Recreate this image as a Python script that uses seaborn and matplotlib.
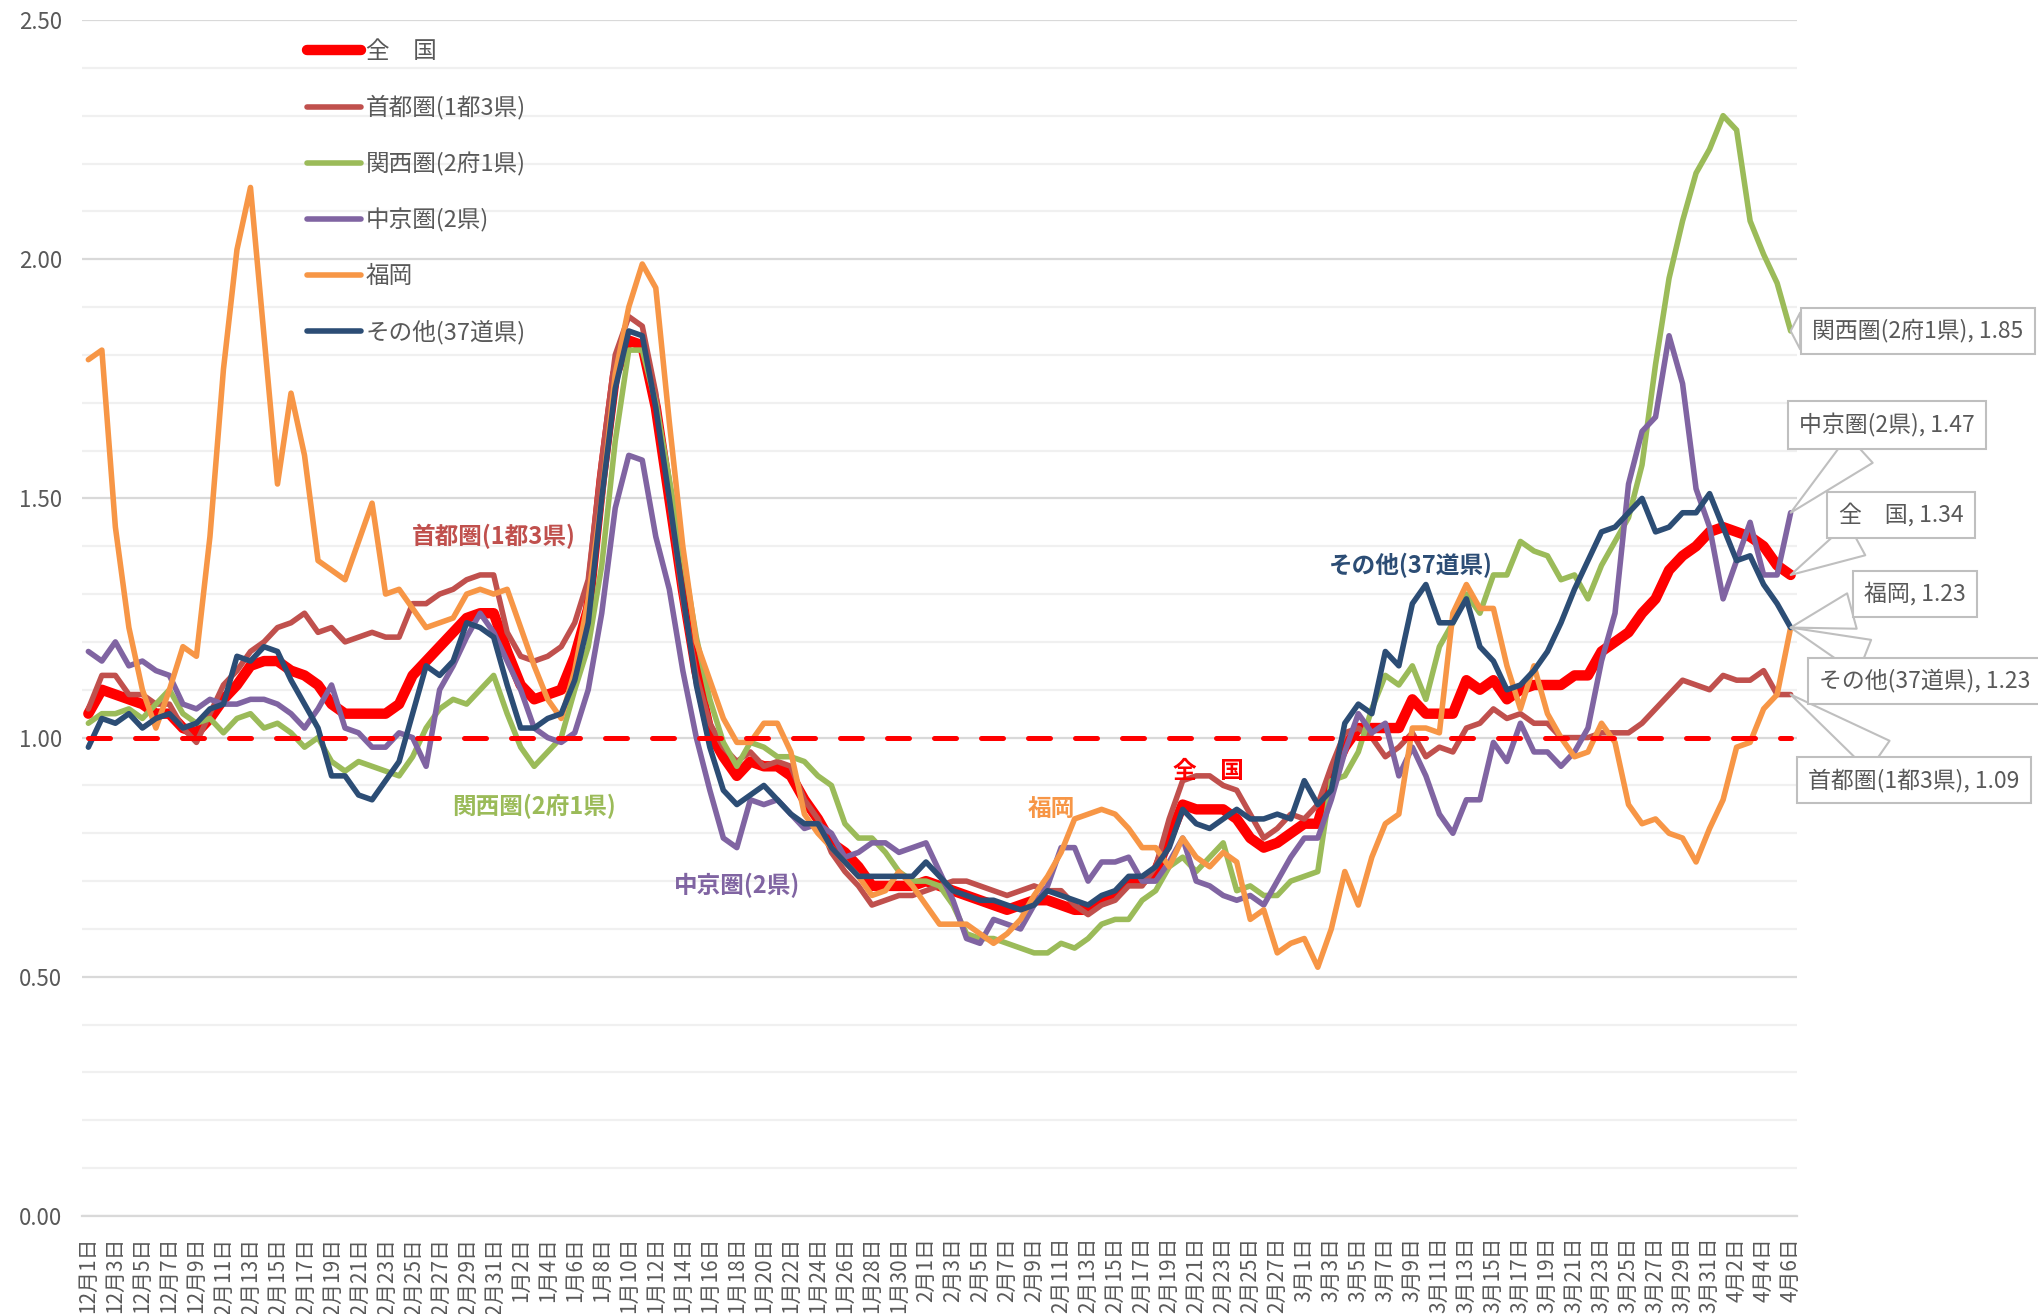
import numpy as np
import pandas as pd
import matplotlib
matplotlib.use('Agg')
import matplotlib.pyplot as plt
from matplotlib.ticker import MultipleLocator, FixedLocator, FormatStrFormatter
import seaborn as sns

# ─────────────────────────────────────────────
# DATA  (daily values, 2020-12-01 .. 2021-04-06)
# ─────────────────────────────────────────────
dates = pd.date_range('2020-12-01', '2021-04-06', freq='D')
date_labels = [f'{d.month}月{d.day}日' for d in dates]

zenkoku = [
    1.05, 1.10, 1.09, 1.08, 1.07, 1.05, 1.05, 1.02, 1.01, 1.04,
    1.08, 1.11, 1.15, 1.16, 1.16, 1.14, 1.13, 1.11, 1.07, 1.05,
    1.05, 1.05, 1.05, 1.07, 1.13, 1.16, 1.19, 1.22, 1.25, 1.26,
    1.26, 1.18, 1.11, 1.08, 1.09, 1.10, 1.17, 1.27, 1.54, 1.76,
    1.83, 1.82, 1.69, 1.50, 1.31, 1.14, 1.01, 0.96, 0.92, 0.95,
    0.94, 0.94, 0.92, 0.87, 0.83, 0.78, 0.76, 0.73, 0.69, 0.69,
    0.69, 0.69, 0.70, 0.69, 0.68, 0.67, 0.66, 0.65, 0.64, 0.65,
    0.66, 0.66, 0.65, 0.64, 0.64, 0.66, 0.67, 0.70, 0.70, 0.72,
    0.79, 0.86, 0.85, 0.85, 0.85, 0.83, 0.79, 0.77, 0.78, 0.80,
    0.82, 0.82, 0.92, 0.98, 1.02, 1.02, 1.02, 1.02, 1.08, 1.05,
    1.05, 1.05, 1.12, 1.10, 1.12, 1.08, 1.10, 1.11, 1.11, 1.11,
    1.13, 1.13, 1.18, 1.20, 1.22, 1.26, 1.29, 1.35, 1.38, 1.40,
    1.43, 1.44, 1.43, 1.42, 1.40, 1.36, 1.34]

shutoken = [
    1.06, 1.13, 1.13, 1.09, 1.09, 1.07, 1.07, 1.02, 0.99, 1.05,
    1.11, 1.14, 1.18, 1.20, 1.23, 1.24, 1.26, 1.22, 1.23, 1.20,
    1.21, 1.22, 1.21, 1.21, 1.28, 1.28, 1.30, 1.31, 1.33, 1.34,
    1.34, 1.22, 1.17, 1.16, 1.17, 1.19, 1.24, 1.33, 1.58, 1.80,
    1.88, 1.86, 1.72, 1.50, 1.29, 1.13, 1.03, 0.98, 0.95, 0.97,
    0.94, 0.95, 0.94, 0.87, 0.83, 0.76, 0.72, 0.69, 0.65, 0.66,
    0.67, 0.67, 0.68, 0.69, 0.70, 0.70, 0.69, 0.68, 0.67, 0.68,
    0.69, 0.68, 0.68, 0.65, 0.63, 0.65, 0.66, 0.69, 0.69, 0.73,
    0.83, 0.91, 0.92, 0.92, 0.90, 0.89, 0.84, 0.79, 0.81, 0.84,
    0.83, 0.86, 0.94, 1.01, 1.02, 1.00, 0.96, 0.98, 1.01, 0.96,
    0.98, 0.97, 1.02, 1.03, 1.06, 1.04, 1.05, 1.03, 1.03, 1.00,
    1.00, 1.00, 1.01, 1.01, 1.01, 1.03, 1.06, 1.09, 1.12, 1.11,
    1.10, 1.13, 1.12, 1.12, 1.14, 1.09, 1.09]

kansai = [
    1.03, 1.05, 1.05, 1.06, 1.04, 1.07, 1.10, 1.05, 1.03, 1.04,
    1.01, 1.04, 1.05, 1.02, 1.03, 1.01, 0.98, 1.00, 0.95, 0.93,
    0.95, 0.94, 0.93, 0.92, 0.96, 1.02, 1.06, 1.08, 1.07, 1.10,
    1.13, 1.05, 0.98, 0.94, 0.97, 1.00, 1.10, 1.19, 1.36, 1.62,
    1.81, 1.81, 1.70, 1.54, 1.38, 1.21, 1.08, 0.99, 0.94, 0.99,
    0.98, 0.96, 0.96, 0.95, 0.92, 0.90, 0.82, 0.79, 0.79, 0.76,
    0.72, 0.70, 0.70, 0.69, 0.65, 0.59, 0.58, 0.58, 0.57, 0.56,
    0.55, 0.55, 0.57, 0.56, 0.58, 0.61, 0.62, 0.62, 0.66, 0.68,
    0.73, 0.75, 0.72, 0.75, 0.78, 0.68, 0.69, 0.67, 0.67, 0.70,
    0.71, 0.72, 0.91, 0.92, 0.97, 1.06, 1.13, 1.11, 1.15, 1.08,
    1.19, 1.24, 1.30, 1.26, 1.34, 1.34, 1.41, 1.39, 1.38, 1.33,
    1.34, 1.29, 1.36, 1.41, 1.46, 1.57, 1.78, 1.96, 2.08, 2.18,
    2.23, 2.30, 2.27, 2.08, 2.01, 1.95, 1.85]

chukyo = [
    1.18, 1.16, 1.20, 1.15, 1.16, 1.14, 1.13, 1.07, 1.06, 1.08,
    1.07, 1.07, 1.08, 1.08, 1.07, 1.05, 1.02, 1.06, 1.11, 1.02,
    1.01, 0.98, 0.98, 1.01, 1.00, 0.94, 1.10, 1.15, 1.21, 1.26,
    1.22, 1.16, 1.10, 1.02, 1.00, 0.99, 1.01, 1.10, 1.26, 1.48,
    1.59, 1.58, 1.42, 1.31, 1.14, 1.00, 0.89, 0.79, 0.77, 0.87,
    0.86, 0.87, 0.84, 0.81, 0.82, 0.80, 0.75, 0.76, 0.78, 0.78,
    0.76, 0.77, 0.78, 0.72, 0.66, 0.58, 0.57, 0.62, 0.61, 0.60,
    0.65, 0.69, 0.77, 0.77, 0.70, 0.74, 0.74, 0.75, 0.70, 0.70,
    0.74, 0.79, 0.70, 0.69, 0.67, 0.66, 0.67, 0.65, 0.70, 0.75,
    0.79, 0.79, 0.87, 0.97, 1.05, 1.01, 1.03, 0.92, 0.98, 0.92,
    0.84, 0.80, 0.87, 0.87, 0.99, 0.95, 1.03, 0.97, 0.97, 0.94,
    0.97, 1.02, 1.16, 1.26, 1.53, 1.64, 1.67, 1.84, 1.74, 1.52,
    1.44, 1.29, 1.37, 1.45, 1.34, 1.34, 1.47]

fukuoka = [
    1.79, 1.81, 1.44, 1.23, 1.10, 1.02, 1.10, 1.19, 1.17, 1.42,
    1.77, 2.02, 2.15, 1.84, 1.53, 1.72, 1.59, 1.37, 1.35, 1.33,
    1.41, 1.49, 1.30, 1.31, 1.27, 1.23, 1.24, 1.25, 1.30, 1.31,
    1.30, 1.31, 1.23, 1.15, 1.08, 1.04, 1.14, 1.29, 1.50, 1.76,
    1.90, 1.99, 1.94, 1.66, 1.40, 1.20, 1.12, 1.04, 0.99, 0.99,
    1.03, 1.03, 0.97, 0.84, 0.80, 0.77, 0.74, 0.71, 0.67, 0.68,
    0.72, 0.69, 0.65, 0.61, 0.61, 0.61, 0.59, 0.57, 0.59, 0.62,
    0.67, 0.71, 0.76, 0.83, 0.84, 0.85, 0.84, 0.81, 0.77, 0.77,
    0.73, 0.79, 0.75, 0.73, 0.76, 0.74, 0.62, 0.64, 0.55, 0.57,
    0.58, 0.52, 0.60, 0.72, 0.65, 0.75, 0.82, 0.84, 1.02, 1.02,
    1.01, 1.26, 1.32, 1.27, 1.27, 1.15, 1.06, 1.15, 1.05, 1.00,
    0.96, 0.97, 1.03, 0.99, 0.86, 0.82, 0.83, 0.80, 0.79, 0.74,
    0.81, 0.87, 0.98, 0.99, 1.06, 1.09, 1.23]

sonota = [
    0.98, 1.04, 1.03, 1.05, 1.02, 1.04, 1.05, 1.02, 1.03, 1.06,
    1.07, 1.17, 1.16, 1.19, 1.18, 1.12, 1.07, 1.02, 0.92, 0.92,
    0.88, 0.87, 0.91, 0.95, 1.05, 1.15, 1.13, 1.16, 1.24, 1.23,
    1.21, 1.11, 1.02, 1.02, 1.04, 1.05, 1.12, 1.24, 1.50, 1.73,
    1.85, 1.84, 1.69, 1.50, 1.30, 1.11, 0.98, 0.89, 0.86, 0.88,
    0.90, 0.87, 0.84, 0.82, 0.82, 0.77, 0.74, 0.71, 0.71, 0.71,
    0.71, 0.71, 0.74, 0.71, 0.68, 0.67, 0.66, 0.66, 0.65, 0.64,
    0.65, 0.68, 0.67, 0.66, 0.65, 0.67, 0.68, 0.71, 0.71, 0.73,
    0.77, 0.85, 0.82, 0.81, 0.83, 0.85, 0.83, 0.83, 0.84, 0.83,
    0.91, 0.86, 0.89, 1.03, 1.07, 1.05, 1.18, 1.15, 1.28, 1.32,
    1.24, 1.24, 1.29, 1.19, 1.16, 1.10, 1.11, 1.14, 1.18, 1.24,
    1.31, 1.37, 1.43, 1.44, 1.47, 1.50, 1.43, 1.44, 1.47, 1.47,
    1.51, 1.44, 1.37, 1.38, 1.32, 1.28, 1.23]

names = ['全\u3000国', '首都圏(1都3県)', '関西圏(2府1県)', '中京圏(2県)', '福岡', 'その他(37道県)']
threshold = 1.0

# ─────────────────────────────────────────────
# STYLE
# ─────────────────────────────────────────────
colors = ['#FF0000', '#C0504D', '#9BBB59', '#8064A2', '#F79646', '#2C4D75']
widths = [7.5, 4.0, 4.0, 4.0, 4.0, 4.0]
grey_txt = '#595959'

# inline series labels (day index, value) and callout box centres (px from top-left)
inline_pos = [(82.9, 0.93), (30.0, 1.42), (33.0, 0.856), (48.0, 0.69), (71.3, 0.85), (97.9, 1.36)]
callout_px = [(1901, 515), (1914, 780), (1918, 331), (1887, 425), (1915, 594), (1925, 681)]

sns.set_style('white')
plt.rcParams['font.family'] = ['Noto Sans CJK JP', 'DejaVu Sans']

W, H = 2038, 1314
fig = plt.figure(figsize=(W / 100, H / 100), dpi=100)
ax = fig.add_axes([81.6 / W, 98 / H, (1797.4 - 81.6) / W, (1216 - 20) / H])

days = np.arange(len(date_labels))
all_series = [zenkoku, shutoken, kansai, chukyo, fukuoka, sonota]
for vals, name, c, lw in zip(all_series, names, colors, widths):
    assert len(vals) == len(days), name
    sns.lineplot(x=days, y=vals, ax=ax, color=c, linewidth=lw, label=name,
                 solid_capstyle='round', solid_joinstyle='round')

# 1.0 reference line
ax.plot(days[[0, -1]], [threshold, threshold], color='#FF0000', linewidth=3.6,
        dashes=(4.4, 5.0), dash_capstyle='round', zorder=5)

# axes
ax.set_xlim(-0.5, len(days) - 0.5)
ax.set_ylim(0, 2.5)
ax.yaxis.set_major_locator(MultipleLocator(0.5))
ax.yaxis.set_minor_locator(MultipleLocator(0.1))
ax.yaxis.set_major_formatter(FormatStrFormatter('%.2f'))
ax.grid(which='major', axis='y', color='#D9D9D9', linewidth=1.6)
ax.grid(which='minor', axis='y', color='#F0F0F0', linewidth=1.6)
ax.grid(which='major', axis='x', visible=False)
ax.set_axisbelow(True)
ax.tick_params(axis='y', which='both', length=0, labelsize=16, labelcolor=grey_txt, pad=14)

ax.xaxis.set_major_locator(FixedLocator(days[::2]))
ax.set_xticklabels(date_labels[::2], rotation=90)
ax.xaxis.set_minor_locator(FixedLocator(np.arange(-0.5, len(days), 2)))
ax.tick_params(axis='x', which='major', length=0, labelsize=15, labelcolor=grey_txt, pad=15)
ax.tick_params(axis='x', which='minor', length=5.5, width=1.2, color='#D9D9D9', direction='out')
ax.set_xlabel('')
ax.set_ylabel('')
for s in ['top', 'right', 'left']:
    ax.spines[s].set_visible(False)
ax.spines['bottom'].set_color('#D9D9D9')
ax.spines['bottom'].set_linewidth(1.6)

# legend
leg = ax.legend(loc='upper left', bbox_to_anchor=(307 / W, 1 - 40 / H), bbox_transform=fig.transFigure,
                frameon=False, fontsize=17, handlelength=2.3, handletextpad=0.2,
                labelspacing=1.36, borderpad=0, borderaxespad=0)
for t in leg.get_texts():
    t.set_color(grey_txt)

# inline labels
for name, c, (xd, yv) in zip(names, colors, inline_pos):
    ax.text(xd, yv, name, color=c, fontsize=17, fontweight='bold',
            ha='center', va='center', zorder=6)

# end-of-line callouts
for vals, name, (cx, cy) in zip(all_series, names, callout_px):
    ax.annotate(f'{name}, {vals[-1]:.2f}', xy=(days[-1], vals[-1]),
                xytext=(cx, H - cy), textcoords='figure pixels',
                ha='center', va='center', fontsize=16.5, color=grey_txt,
                bbox=dict(boxstyle='square,pad=0.5', fc='white', ec='#BFBFBF', lw=1.5),
                arrowprops=dict(arrowstyle='wedge,tail_width=1.6,shrink_factor=0.5',
                                fc='white', ec='#BFBFBF', lw=1.5, shrinkA=0, shrinkB=0),
                annotation_clip=False, zorder=7)

fig.savefig('out.png', dpi=100)
